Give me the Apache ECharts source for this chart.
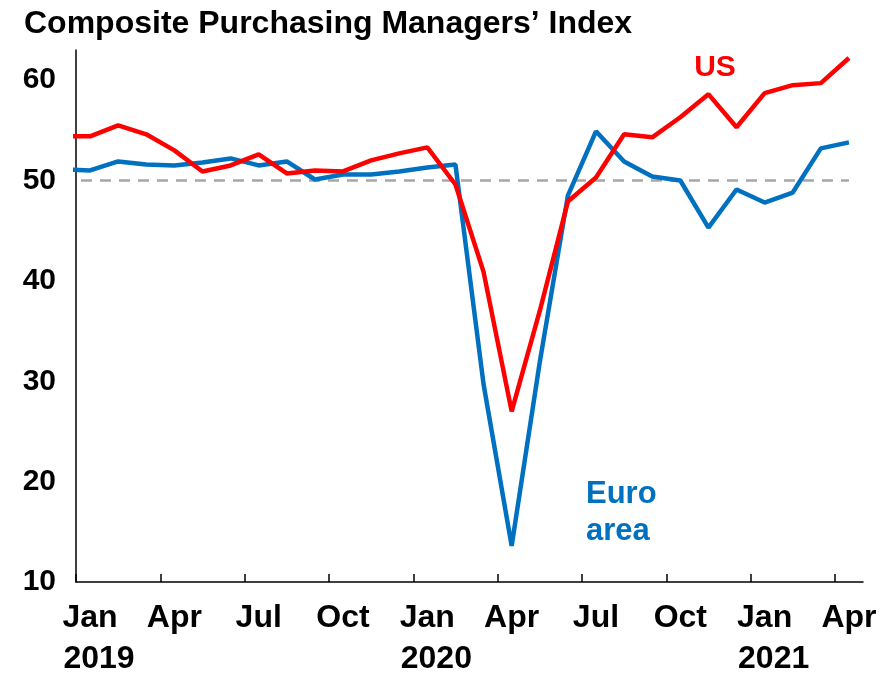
<!DOCTYPE html>
<html>
<head>
<meta charset="utf-8">
<script src="https://cdn.jsdelivr.net/npm/echarts@6/dist/echarts.min.js"></script>
<style>
  html, body { margin: 0; padding: 0; background: #ffffff; }
  #chart { width: 894px; height: 675px; }
</style>
</head>
<body>
<div id="chart"></div>
<script>
// monthly index, Dec 2018 .. Apr 2021 (Dec 2018 sits left of the axis and is clipped)
var months = ['Dec 2018',
  'Jan 2019', 'Feb 2019', 'Mar 2019', 'Apr 2019', 'May 2019', 'Jun 2019',
  'Jul 2019', 'Aug 2019', 'Sep 2019', 'Oct 2019', 'Nov 2019', 'Dec 2019',
  'Jan 2020', 'Feb 2020', 'Mar 2020', 'Apr 2020', 'May 2020', 'Jun 2020',
  'Jul 2020', 'Aug 2020', 'Sep 2020', 'Oct 2020', 'Nov 2020', 'Dec 2020',
  'Jan 2021', 'Feb 2021', 'Mar 2021', 'Apr 2021'];

var usPmi = [54.4,
  54.4, 55.5, 54.6, 53.0, 50.9, 51.5, 52.6, 50.7, 51.0, 50.9, 52.0, 52.7,
  53.3, 49.6, 40.9, 27.0, 37.0, 47.9, 50.3, 54.6, 54.3, 56.3, 58.6, 55.3,
  58.7, 59.5, 59.7, 62.2];

var euroPmi = [51.1,
  51.0, 51.9, 51.6, 51.5, 51.8, 52.2, 51.5, 51.9, 50.1, 50.6, 50.6, 50.9,
  51.3, 51.6, 29.7, 13.6, 31.9, 48.5, 54.9, 51.9, 50.4, 50.0, 45.3, 49.1,
  47.8, 48.8, 53.2, 53.8];

var neutral = 50;

// tick labels, one per month from Jan 2019 (shown every third month)
var xLabels = ['Jan\n2019', 'Feb', 'Mar', 'Apr', 'May', 'Jun', 'Jul', 'Aug', 'Sep', 'Oct', 'Nov', 'Dec',
  'Jan\n2020', 'Feb', 'Mar', 'Apr', 'May', 'Jun', 'Jul', 'Aug', 'Sep', 'Oct', 'Nov', 'Dec',
  'Jan\n2021', 'Feb', 'Mar', 'Apr'];

var yTicks = [10, 20, 30, 40, 50, 60];

var font = '"Liberation Sans", Arial, sans-serif';

// month i of months[] is centred at x = i - 0.5, so Jan 2019 is the first band [0,1]
function pairs(arr) {
  var out = [];
  for (var i = 0; i < arr.length; i++) out.push([i - 0.5, arr[i]]);
  return out;
}
var neutralLine = [];
for (var i = 0; i < months.length; i++) neutralLine.push([i - 0.5, neutral]);

var tickPos = [], labelPos = [];
for (var k = 0; k < xLabels.length; k += 3) {
  tickPos.push(k);
  labelPos.push(k + 0.5);
}

var myChart = echarts.init(document.getElementById('chart'));
var option = {
  animation: false,
  backgroundColor: '#ffffff',
  title: {
    text: 'Composite Purchasing Managers\u2019 Index',
    left: 19,
    top: 3,
    textStyle: { fontFamily: font, fontSize: 32, fontWeight: 'bold', color: '#000' }
  },
  grid: { left: 76, right: 31, top: 50, bottom: 93, outerBoundsMode: 'none', containLabel: false },
  xAxis: {
    type: 'value',
    min: 0,
    max: xLabels.length,
    splitLine: { show: false },
    axisLine: { show: true, onZero: false, lineStyle: { color: '#000', width: 1.5 } },
    axisTick: {
      show: true, inside: true, length: 8,
      customValues: tickPos,
      lineStyle: { color: '#000', width: 1.5 }
    },
    axisLabel: {
      customValues: labelPos,
      margin: 16,
      fontFamily: font, fontSize: 32, fontWeight: 'bold', color: '#000', lineHeight: 41,
      formatter: function (v) {
        var parts = xLabels[Math.floor(v)].split('\n');
        return parts.length > 1 ? parts[0] + '\n{yr|' + parts[1] + '}' : parts[0];
      },
      rich: {
        yr: { fontFamily: font, fontSize: 32, fontWeight: 'bold', color: '#000', lineHeight: 41, padding: [0, 0, 0, 18] }
      }
    }
  },
  yAxis: {
    type: 'value',
    min: 10,
    max: 63,
    interval: 10,
    splitLine: { show: false },
    axisLine: { show: true, lineStyle: { color: '#000', width: 1.5 } },
    axisTick: { show: false },
    axisLabel: {
      margin: 20,
      fontFamily: font, fontSize: 30, fontWeight: 'bold', color: '#000',
      formatter: function (v) { return yTicks.indexOf(v) >= 0 ? String(v) : ''; }
    }
  },
  graphic: [
    { type: 'text', x: 715, y: 68, style: { text: 'US', fill: '#FF0000', font: 'bold 30px ' + font, textAlign: 'center', textVerticalAlign: 'middle' } },
    { type: 'text', x: 586, y: 494, style: { text: 'Euro', fill: '#0070C0', font: 'bold 31px ' + font, textAlign: 'left', textVerticalAlign: 'middle' } },
    { type: 'text', x: 586, y: 531, style: { text: 'area', fill: '#0070C0', font: 'bold 31px ' + font, textAlign: 'left', textVerticalAlign: 'middle' } }
  ],
  series: [
    {
      name: 'neutral', type: 'line', data: neutralLine, symbol: 'none', z: 1,
      lineStyle: { color: '#A6A6A6', width: 2.5, type: [11, 8] }
    },
    {
      name: 'Euro area', type: 'line', data: pairs(euroPmi), symbol: 'none', z: 3,
      lineStyle: { color: '#0070C0', width: 4.5 }
    },
    {
      name: 'US', type: 'line', data: pairs(usPmi), symbol: 'none', z: 4,
      lineStyle: { color: '#FF0000', width: 4.5 }
    }
  ]
};
myChart.setOption(option);
</script>
</body>
</html>
